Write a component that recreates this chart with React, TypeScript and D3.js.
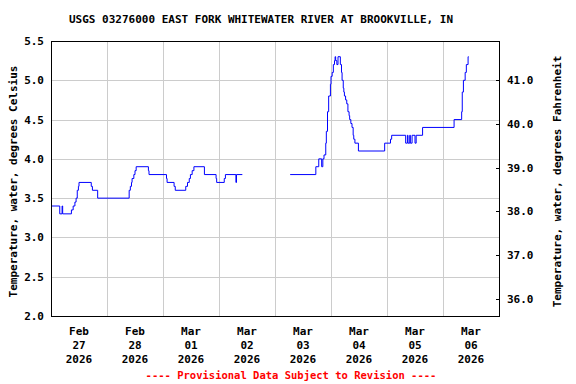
import React from "react";
import * as d3 from "d3";

const TITLE = "USGS 03276000 EAST FORK WHITEWATER RIVER AT BROOKVILLE, IN";
const LEFT_LABEL = "Temperature, water, degrees Celsius";
const RIGHT_LABEL = "Temperature, water, degrees Fahrenheit";
const FOOTNOTE = "---- Provisional Data Subject to Revision ----";

const celsiusTicks = [2.0, 2.5, 3.0, 3.5, 4.0, 4.5, 5.0, 5.5];
const fahrenheitTicks = [36.0, 37.0, 38.0, 39.0, 40.0, 41.0];
const dayTickMonths = ["Feb", "Feb", "Mar", "Mar", "Mar", "Mar", "Mar", "Mar"];
const dayTickDays = ["27", "28", "01", "02", "03", "04", "05", "06"];
const dayTickYears = ["2026", "2026", "2026", "2026", "2026", "2026", "2026", "2026"];
const dayTickDates = ["2026-02-27", "2026-02-28", "2026-03-01", "2026-03-02", "2026-03-03", "2026-03-04", "2026-03-05", "2026-03-06"];

// Step series: time of change and new value (null = gap)
const obsTimes = [
  "2026-02-27T00:00", "2026-02-27T03:45", "2026-02-27T04:45", "2026-02-27T05:00", "2026-02-27T08:45",
  "2026-02-27T09:30", "2026-02-27T10:15", "2026-02-27T10:45", "2026-02-27T11:15", "2026-02-27T11:45",
  "2026-02-27T12:00", "2026-02-27T17:15", "2026-02-27T17:45", "2026-02-27T20:00", "2026-02-28T09:30",
  "2026-02-28T10:00", "2026-02-28T10:30", "2026-02-28T10:45", "2026-02-28T11:30", "2026-02-28T12:00",
  "2026-02-28T12:30", "2026-02-28T17:45", "2026-02-28T18:00", "2026-03-01T01:30", "2026-03-01T01:45",
  "2026-03-01T04:45", "2026-03-01T05:15", "2026-03-01T09:45", "2026-03-01T10:30", "2026-03-01T11:15",
  "2026-03-01T11:45", "2026-03-01T12:30", "2026-03-01T13:15", "2026-03-01T17:45", "2026-03-01T22:45",
  "2026-03-01T23:00", "2026-03-02T02:15", "2026-03-02T02:45", "2026-03-02T07:15", "2026-03-02T07:30",
  "2026-03-02T10:00", "2026-03-02T10:15",
  "2026-03-03T06:30", "2026-03-03T17:30", "2026-03-03T18:45", "2026-03-03T20:00", "2026-03-03T20:30",
  "2026-03-03T21:00", "2026-03-03T21:45", "2026-03-03T22:00", "2026-03-03T22:30", "2026-03-03T23:00",
  "2026-03-03T23:45", "2026-03-04T00:00", "2026-03-04T00:30", "2026-03-04T01:00", "2026-03-04T01:30",
  "2026-03-04T01:45", "2026-03-04T02:00", "2026-03-04T02:30", "2026-03-04T03:00", "2026-03-04T04:00",
  "2026-03-04T04:30", "2026-03-04T04:45", "2026-03-04T05:15", "2026-03-04T05:30", "2026-03-04T05:45",
  "2026-03-04T06:15", "2026-03-04T06:45", "2026-03-04T07:15", "2026-03-04T07:45", "2026-03-04T08:00",
  "2026-03-04T08:30", "2026-03-04T09:00", "2026-03-04T09:30", "2026-03-04T09:45", "2026-03-04T10:15",
  "2026-03-04T11:45", "2026-03-04T23:00", "2026-03-05T01:30", "2026-03-05T02:00", "2026-03-05T08:00",
  "2026-03-05T08:45", "2026-03-05T09:00", "2026-03-05T09:45", "2026-03-05T10:00", "2026-03-05T10:45",
  "2026-03-05T12:00", "2026-03-05T12:30", "2026-03-05T15:15", "2026-03-06T04:45", "2026-03-06T08:00",
  "2026-03-06T08:15", "2026-03-06T08:45", "2026-03-06T09:30", "2026-03-06T10:00", "2026-03-06T10:45",
  "2026-03-06T11:00",
];
const obsValues: (number | null)[] = [
  3.4, 3.3, 3.4, 3.3, 3.35,
  3.4, 3.45, 3.5, 3.6, 3.65,
  3.7, 3.65, 3.6, 3.5, 3.6,
  3.65, 3.7, 3.75, 3.8, 3.85,
  3.9, 3.85, 3.8, 3.75, 3.7,
  3.65, 3.6, 3.65, 3.7, 3.75,
  3.8, 3.85, 3.9, 3.8, 3.75,
  3.7, 3.75, 3.8, 3.7, 3.8,
  3.8, null,
  3.8, 3.9, 4.0, 3.9, 4.0,
  4.05, 4.2, 4.35, 4.6, 4.8,
  4.95, 5.05, 5.1, 5.2, 5.25,
  5.3, 5.25, 5.2, 5.3, 5.2,
  5.1, 5.0, 4.9, 4.85, 4.8,
  4.75, 4.7, 4.6, 4.55, 4.5,
  4.45, 4.4, 4.3, 4.25, 4.2,
  4.1, 4.2, 4.25, 4.3, 4.2,
  4.3, 4.2, 4.3, 4.2, 4.3,
  4.2, 4.3, 4.4, 4.5, 4.6,
  4.85, 5.0, 5.1, 5.2, 5.3,
  5.3,
];

const W = 576;
const H = 384;
const M = { left: 51, right: 499, top: 41, bottom: 316 };
const FONT = "'DejaVu Sans Mono', monospace";

export default function App() {
  const parse = d3.timeParse("%Y-%m-%dT%H:%M");
  const parseDay = d3.timeParse("%Y-%m-%d");
  const x = d3
    .scaleTime()
    .domain([parseDay("2026-02-27")!, parseDay("2026-03-07")!])
    .range([M.left, M.right]);
  const y = d3.scaleLinear().domain([2.0, 5.5]).range([M.bottom, M.top]);
  const yF = d3
    .scaleLinear()
    .domain([2.0 * 1.8 + 32, 5.5 * 1.8 + 32])
    .range([M.bottom, M.top]);

  const data = obsTimes.map((t, i) => ({ t: parse(t)!, v: obsValues[i] }));
  const line = d3
    .line<{ t: Date; v: number | null }>()
    .defined((d) => d.v !== null)
    .x((d) => x(d.t))
    .y((d) => y(d.v as number))
    .curve(d3.curveStepAfter);

  const midnights = d3.timeDay.range(parseDay("2026-02-28")!, parseDay("2026-03-07")!);
  const noons = dayTickDates.map((d) => d3.timeHour.offset(parseDay(d)!, 12));

  const textStyle = { fontFamily: FONT, fontWeight: "bold" as const, fontSize: 11 };

  return (
    <svg width={W} height={H} style={{ position: "absolute", left: 0, top: 0, background: "#fff" }}>
      <rect x={0} y={0} width={W} height={H} fill="#fff" />
      {/* grid */}
      {celsiusTicks.map((c) => (
        <line key={"hg" + c} x1={M.left} x2={M.right} y1={Math.round(y(c)) + 0.5} y2={Math.round(y(c)) + 0.5} stroke="#cccccc" strokeWidth={1} />
      ))}
      {midnights.map((d, i) => (
        <line key={"vg" + i} x1={Math.round(x(d)) + 0.5} x2={Math.round(x(d)) + 0.5} y1={M.top} y2={M.bottom} stroke="#cccccc" strokeWidth={1} />
      ))}
      {/* data */}
      <path d={line(data) || ""} fill="none" stroke="#0000ff" strokeWidth={1} />
      {/* frame */}
      <rect x={M.left + 0.5} y={M.top + 0.5} width={M.right - M.left} height={M.bottom - M.top} fill="none" stroke="#000" strokeWidth={1} />
      {/* right ticks */}
      {fahrenheitTicks.map((f) => (
        <line key={"rt" + f} x1={M.right - 3} x2={M.right + 1} y1={Math.round(yF(f)) + 0.5} y2={Math.round(yF(f)) + 0.5} stroke="#000" strokeWidth={1} />
      ))}
      {/* left tick labels */}
      {celsiusTicks.map((c) => (
        <text key={"lt" + c} x={44} y={y(c) + 4} textAnchor="end" {...textStyle}>
          {d3.format(".1f")(c)}
        </text>
      ))}
      {fahrenheitTicks.map((f) => (
        <text key={"rl" + f} x={507} y={yF(f) + 4} textAnchor="start" {...textStyle}>
          {d3.format(".1f")(f)}
        </text>
      ))}
      {/* x tick labels */}
      {noons.map((d, i) => (
        <g key={"xl" + i}>
          <text x={x(d)} y={335} textAnchor="middle" {...textStyle}>{dayTickMonths[i]}</text>
          <text x={x(d)} y={349} textAnchor="middle" {...textStyle}>{dayTickDays[i]}</text>
          <text x={x(d)} y={363} textAnchor="middle" {...textStyle}>{dayTickYears[i]}</text>
        </g>
      ))}
      {/* title */}
      <text x={261} y={23} textAnchor="middle" {...textStyle}>{TITLE}</text>
      {/* axis labels */}
      <text transform={`translate(17,${(M.top + M.bottom) / 2 + 3}) rotate(-90)`} textAnchor="middle" {...textStyle}>{LEFT_LABEL}</text>
      <text transform={`translate(561,${(M.top + M.bottom) / 2 + 3}) rotate(-90)`} textAnchor="middle" {...textStyle}>{RIGHT_LABEL}</text>
      {/* footnote */}
      <text x={291} y={379} textAnchor="middle" {...textStyle} fontSize={10.5} fill="#ff0000">{FOOTNOTE}</text>
    </svg>
  );
}
